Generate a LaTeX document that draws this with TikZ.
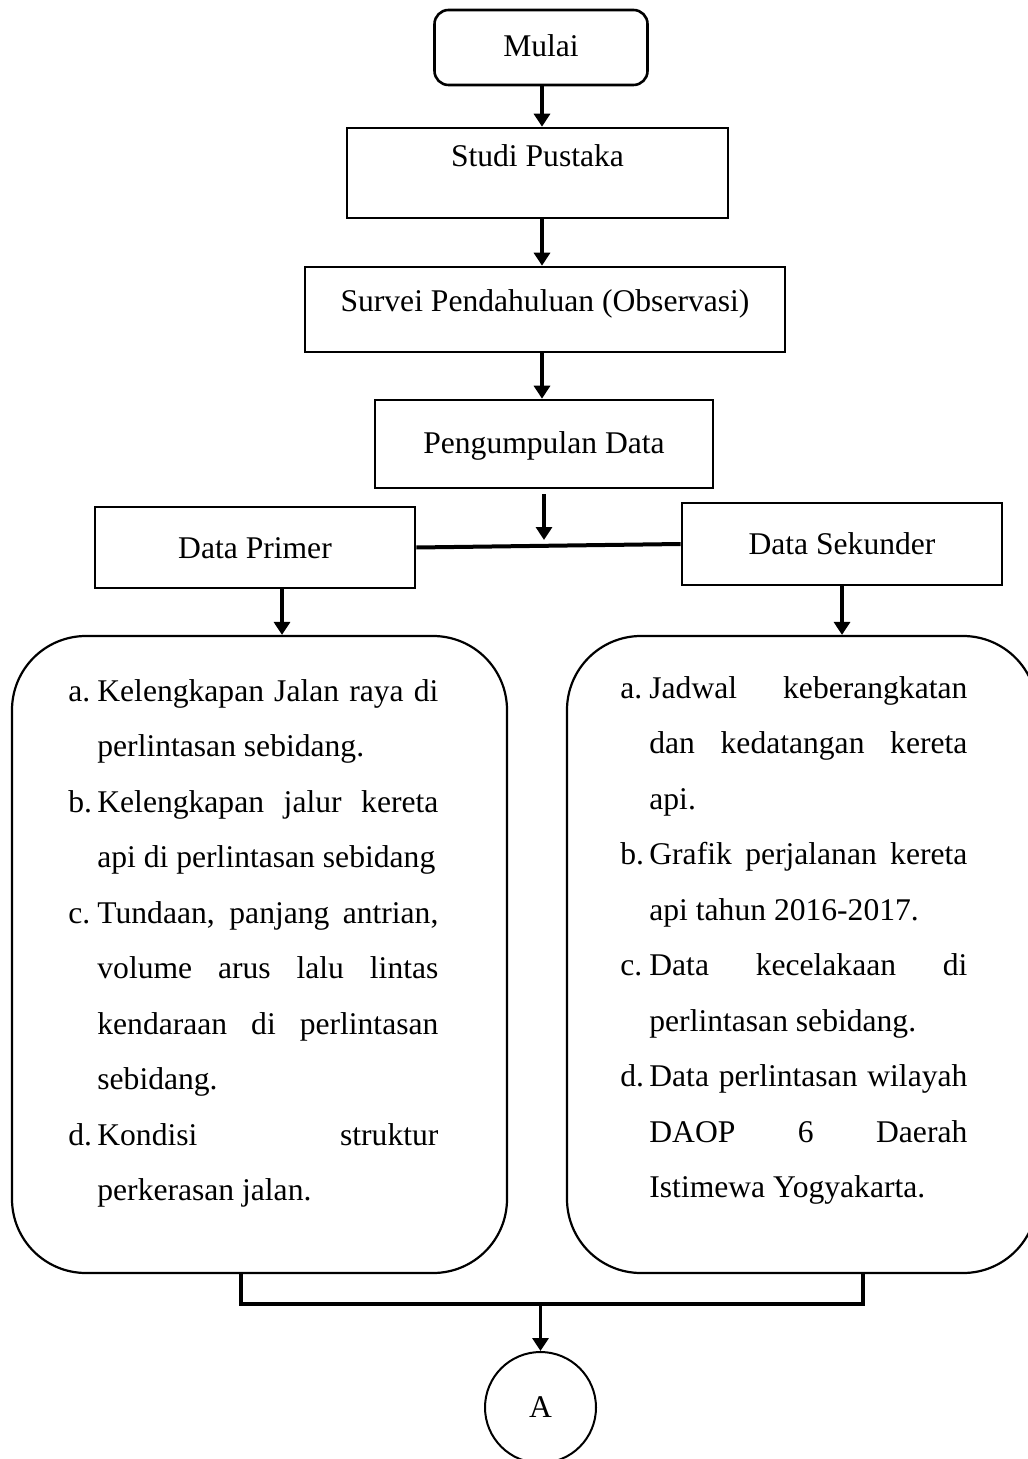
\documentclass[tikz,border=0pt]{standalone}
\usepackage{fontspec}
\setmainfont{Liberation Serif}
\usepackage{tikz}
\usetikzlibrary{arrows.meta,positioning}

\newcommand{\kitem}[2]{\noindent\hangindent=14.5pt\hangafter=1\makebox[14.5pt][l]{#1}#2\par}

\tikzset{
  procbox/.style={draw, line width=1.3pt, inner sep=0pt},
  listbox/.style={draw, line width=1.1pt, rounded corners=37pt, inner sep=0pt},
  listtext/.style={anchor=base west, inner sep=0pt, align=justify},
  arr/.style={line width=1.6pt, -{Triangle[length=6.5pt,width=8pt]}},
  link/.style={line width=2pt}
}

\begin{document}
\begin{tikzpicture}[x=0.5pt,y=-0.5pt,font=\fontsize{15.8}{27.75}\selectfont]
\useasboundingbox (0,0) rectangle (1027,1459);

%Flowchart: Terminator
\node [procbox, rounded corners=7pt, minimum width=106.5pt, text height=23.5pt, text depth=14pt] (mulai) at (541,47.5) {Mulai};
%Flowchart: Process
\node [procbox, minimum width=190.5pt, text height=19.5pt, text depth=25.5pt] (studi) at (537.5,173) {Studi Pustaka};
\node [procbox, minimum width=240pt, text height=22.5pt, text depth=20pt] (survei) at (545,309.5) {Survei Pendahuluan (Observasi)};
\node [procbox, minimum width=169pt, text height=27pt, text depth=17pt] (kumpul) at (544,444) {Pengumpulan Data};
\node [procbox, minimum width=160pt, text height=25.5pt, text depth=15pt] (primer) at (255,547.5) {Data Primer};
\node [procbox, minimum width=160pt, text height=25.5pt, text depth=15.5pt] (sekunder) at (842,544) {Data Sekunder};

%Rounded boxes
\node [listbox, minimum width=247.5pt, minimum height=318.5pt] (boxL) at (259.5,954.5) {};
\node [listbox, minimum width=235pt, minimum height=318.5pt] (boxR) at (802,954.5) {};

% Text Node
\node [listtext, text width=185pt] (txtL) at (68,701) {%
\kitem{a.}{Kelengkapan Jalan raya di\linebreak perlintasan sebidang.}%
\kitem{b.}{Kelengkapan jalur kereta\linebreak api di perlintasan sebidang}%
\kitem{c.}{Tundaan, panjang antrian,\linebreak volume arus lalu lintas\linebreak kendaraan di perlintasan\linebreak sebidang.}%
\kitem{d.}{Kondisi struktur\linebreak perkerasan jalan.}};
% Text Node
\node [listtext, text width=173.5pt] (txtR) at (620,698) {%
\kitem{a.}{Jadwal keberangkatan\linebreak dan kedatangan kereta\linebreak api.}%
\kitem{b.}{Grafik perjalanan kereta\linebreak api tahun 2016-2017.}%
\kitem{c.}{Data kecelakaan di\linebreak perlintasan sebidang.}%
\kitem{d.}{Data perlintasan wilayah\linebreak DAOP 6 Daerah\linebreak Istimewa Yogyakarta.}};

%Flowchart: Connector
\node [draw, circle, line width=1pt, minimum size=55.5pt, inner sep=0pt] (cA) at (540.5,1407.5) {A};

\coordinate (spine) at (542,0);
\coordinate (hub) at (544,546);
\coordinate (jL) at (241,1304);
\coordinate (jR) at (863,1304);

%Arrows
\draw [arr] (mulai.south -| spine) -- (studi.north -| spine);
\draw [arr] (studi.south -| spine) -- (survei.north -| spine);
\draw [arr] (survei.south -| spine) -- (kumpul.north -| spine);
\draw [arr] ([yshift=-2.5pt]kumpul.south -| hub) -- ([yshift=3pt]hub);
\draw [link] (primer.east) -- (sekunder.west);
\draw [arr] ([xshift=13.5pt]primer.south) -- ([xshift=13.5pt]primer.south |- boxL.north);
\draw [arr] (sekunder.south) -- (sekunder.south |- boxR.north);
\draw [link] (boxL.south -| jL) -- (jL) -- (jR) -- (boxR.south -| jR);
\draw [arr] (jL -| cA) -- (cA.north);

\end{tikzpicture}
\end{document}
